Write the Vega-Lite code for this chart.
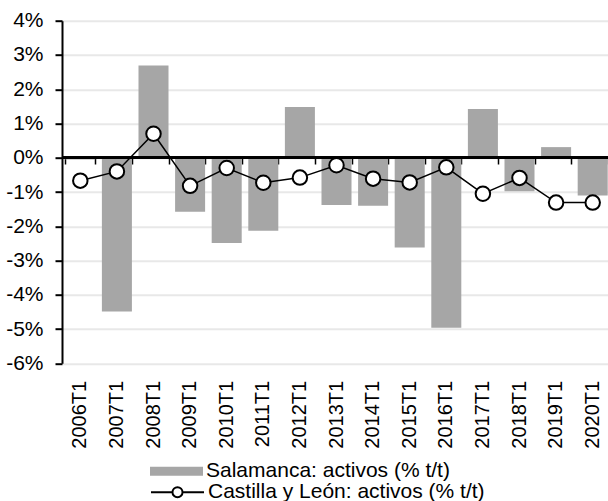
{
  "$schema": "https://vega.github.io/schema/vega-lite/v6.json",
  "width": 549,
  "height": 342.6,
  "autosize": "none",
  "padding": {"left": 62, "top": 20.7, "right": 0, "bottom": 137.7},
  "config": {
    "view": {"stroke": null},
    "font": "Liberation Sans",
    "axis": {"labelFont": "Liberation Sans", "labelColor": "black", "labelFontSize": 20},
    "legend": {"labelFont": "Liberation Sans", "labelColor": "black", "labelFontSize": 21}
  },
  "data": {
    "values": [
      {"periodo": "2006T1", "sal": -0.05, "cyl": -0.67},
      {"periodo": "2007T1", "sal": -4.49, "cyl": -0.40},
      {"periodo": "2008T1", "sal": 2.69, "cyl": 0.70},
      {"periodo": "2009T1", "sal": -1.58, "cyl": -0.82},
      {"periodo": "2010T1", "sal": -2.49, "cyl": -0.30},
      {"periodo": "2011T1", "sal": -2.13, "cyl": -0.73},
      {"periodo": "2012T1", "sal": 1.48, "cyl": -0.58},
      {"periodo": "2013T1", "sal": -1.38, "cyl": -0.22},
      {"periodo": "2014T1", "sal": -1.40, "cyl": -0.61},
      {"periodo": "2015T1", "sal": -2.62, "cyl": -0.72},
      {"periodo": "2016T1", "sal": -4.96, "cyl": -0.28},
      {"periodo": "2017T1", "sal": 1.42, "cyl": -1.05},
      {"periodo": "2018T1", "sal": -0.98, "cyl": -0.59},
      {"periodo": "2019T1", "sal": 0.31, "cyl": -1.31},
      {"periodo": "2020T1", "sal": -1.10, "cyl": -1.31}
    ]
  },
  "resolve": {"axis": {"x": "independent"}},
  "layer": [
    {
      "mark": {"type": "bar", "color": "#a6a6a6"},
      "encoding": {
        "x": {
          "field": "periodo", "type": "ordinal", "title": null,
          "scale": {"paddingInner": 0.18, "paddingOuter": 0.09},
          "axis": {"orient": "bottom", "domain": false, "ticks": false, "tickSize": 0, "labelPadding": 17, "labelAngle": -90, "grid": false, "labelFontSize": 20, "labelFont": "Liberation Sans", "labelColor": "black", "labelOverlap": false}
        },
        "y": {
          "field": "sal", "type": "quantitative", "title": null,
          "scale": {"domain": [-6, 4], "nice": false, "zero": false},
          "axis": {
            "values": [-6, -5, -4, -3, -2, -1, 0, 1, 2, 3, 4],
            "labelExpr": "datum.value + '%'",
            "labelOverlap": false,
            "labelFontSize": 21, "labelFont": "Liberation Sans", "labelColor": "black",
            "grid": true, "gridColor": "#e8e8e8", "gridWidth": 2,
            "domainColor": "black", "domainWidth": 2,
            "tickColor": "black", "tickWidth": 2, "tickSize": 7,
            "labelPadding": 12
          }
        },
        "color": {
          "datum": "Salamanca: activos (% t/t)",
          "scale": {"range": ["#a6a6a6"]},
          "legend": {
            "title": null, "orient": "none", "legendX": 88, "legendY": 424,
            "padding": 0, "labelLimit": 500, "labelOffset": 3,
            "symbolType": "M-1,-0.17H1V0.17H-1Z", "symbolSize": 2809,
            "symbolStrokeWidth": 0, "symbolOpacity": 1
          }
        }
      }
    },
    {
      "mark": {"type": "rule", "color": "black", "strokeWidth": 2},
      "encoding": {"y": {"datum": 0, "type": "quantitative", "axis": {
            "values": [-6, -5, -4, -3, -2, -1, 0, 1, 2, 3, 4],
            "labelExpr": "datum.value + '%'",
            "labelOverlap": false,
            "labelFontSize": 21, "labelFont": "Liberation Sans", "labelColor": "black",
            "grid": true, "gridColor": "#e8e8e8", "gridWidth": 2,
            "domainColor": "black", "domainWidth": 2,
            "tickColor": "black", "tickWidth": 2, "tickSize": 7,
            "labelPadding": 12, "title": null
          }}}
    },
    {
      "mark": {"type": "line", "strokeWidth": 1.5},
      "encoding": {
        "x": {
          "field": "periodo", "type": "ordinal", "title": null,
          "axis": {"orient": "bottom", "offset": -205.3, "domain": false, "labels": false, "ticks": true, "tickBand": "extent", "tickSize": 6, "tickColor": "black", "tickWidth": 1.5, "grid": false}
        },
        "y": {"field": "cyl", "type": "quantitative", "title": null, "axis": {
            "values": [-6, -5, -4, -3, -2, -1, 0, 1, 2, 3, 4],
            "labelExpr": "datum.value + '%'",
            "labelOverlap": false,
            "labelFontSize": 21, "labelFont": "Liberation Sans", "labelColor": "black",
            "grid": true, "gridColor": "#e8e8e8", "gridWidth": 2,
            "domainColor": "black", "domainWidth": 2,
            "tickColor": "black", "tickWidth": 2, "tickSize": 7,
            "labelPadding": 12
          }},
        "stroke": {
          "datum": "Castilla y León: activos (% t/t)",
          "scale": {"range": ["black"]},
          "legend": {
            "title": null, "orient": "none", "legendX": 88, "legendY": 444,
            "padding": 0, "labelLimit": 500, "labelOffset": 3,
            "symbolType": "M-1,0H-0.19M0.19,0H1M0.19,0A0.19,0.19,0,1,1,-0.19,0A0.19,0.19,0,1,1,0.19,0",
            "symbolSize": 2809,
            "encode": {"symbols": {"update": {"fill": {"value": "white"}, "stroke": {"value": "black"}, "strokeWidth": {"value": 2}, "opacity": {"value": 1}}}}
          }
        }
      }
    },
    {
      "mark": {"type": "point", "shape": "circle", "filled": true, "fill": "white", "stroke": "black", "strokeWidth": 2, "size": 210, "opacity": 1},
      "encoding": {
        "x": {"field": "periodo", "type": "ordinal", "axis": null},
        "y": {"field": "cyl", "type": "quantitative", "title": null, "axis": {
            "values": [-6, -5, -4, -3, -2, -1, 0, 1, 2, 3, 4],
            "labelExpr": "datum.value + '%'",
            "labelOverlap": false,
            "labelFontSize": 21, "labelFont": "Liberation Sans", "labelColor": "black",
            "grid": true, "gridColor": "#e8e8e8", "gridWidth": 2,
            "domainColor": "black", "domainWidth": 2,
            "tickColor": "black", "tickWidth": 2, "tickSize": 7,
            "labelPadding": 12
          }}
      }
    }
  ]
}
